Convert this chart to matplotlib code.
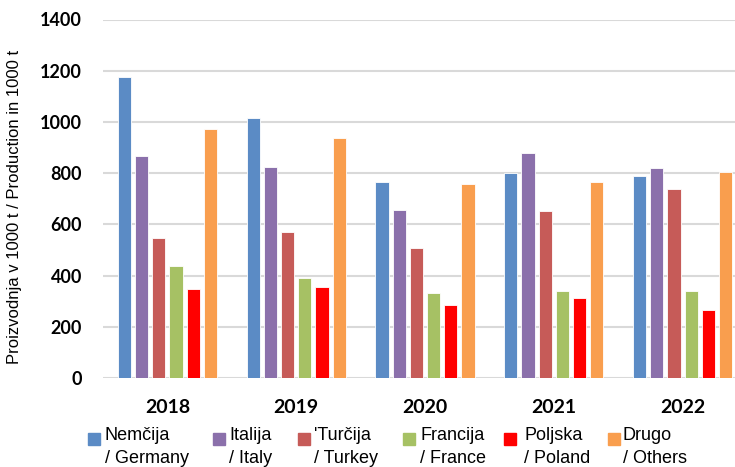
import numpy as np
import matplotlib.pyplot as plt
from matplotlib.patches import Rectangle

# Proizvodnja po državah (v 1000 t)
leta = ['2018', '2019', '2020', '2021', '2022']
nemcija = [1175, 1016, 767, 802, 790]
italija = [865, 824, 658, 877, 819]
turcija = [545, 572, 506, 654, 738]
francija = [439, 391, 330, 339, 339]
poljska = [346, 356, 285, 311, 264]
drugo = [973, 937, 759, 767, 803]

serije = [nemcija, italija, turcija, francija, poljska, drugo]
oznake = [('Nemčija', '/ Germany'), ('Italija', '/ Italy'), ("'Turčija", '/ Turkey'),
          ('Francija', '/ France'), ('Poljska', '/ Poland'), ('Drugo', '/ Others')]
barve = ['#5B8BC5', '#8B70AB', '#C65B58', '#A6C164', '#FF0000', '#F99E4E']

W, H = 735, 467
fig = plt.figure(figsize=(W / 100, H / 100), dpi=100)
# os sega malce čez desni rob slike
ax = fig.add_axes([103 / W, 1 - 378 / H, 644 / W, (378 - 19.5) / H])
ax.set_clip_on(False)

x = np.arange(len(leta))
korak = 0.1336
sirina = 0.1036
for i, (vals, c) in enumerate(zip(serije, barve)):
    ax.bar(x + (i - 2.5) * korak, vals, width=sirina, color=c,
           edgecolor='white', linewidth=0.6, zorder=3)

ax.set_xlim(-0.5, len(leta) - 0.5)
ax.set_ylim(0, 1400)
ax.set_yticks(range(0, 1401, 200))
ax.set_xticks(x)
ax.set_xticklabels(leta)
ax.yaxis.grid(True, color='#D9D9D9', linewidth=1.5, zorder=0)
ax.set_axisbelow(True)
for s in ax.spines.values():
    s.set_visible(False)
ax.tick_params(axis='both', length=0)
ax.tick_params(axis='y', pad=15)
ax.tick_params(axis='x', pad=15)
for lab in ax.get_yticklabels() + ax.get_xticklabels():
    lab.set_fontfamily('Lato')
    lab.set_fontweight('bold')
    lab.set_fontsize(13)
for lab in ax.get_xticklabels():
    lab.set_fontsize(14)

fig.text(15 / W, 1 - 207 / H, 'Proizvodnja v 1000 t / Production in 1000 t',
         rotation=90, ha='center', va='center', family='Liberation Sans', fontsize=12)

# legenda pod grafom
kvadrati = [88, 213, 298, 403, 504, 608]
besedila = [105, 229, 314, 420, 524, 623]
for kx, tx, c, (l1, l2) in zip(kvadrati, besedila, barve, oznake):
    fig.patches.append(Rectangle((kx / W, 1 - 445 / H), 12 / W, 12 / H,
                                 transform=fig.transFigure, color=c))
    fig.text(tx / W, 1 - 440 / H, l1, ha='left', va='baseline',
             family='Liberation Sans', fontsize=13)
    fig.text(tx / W, 1 - 463 / H, l2, ha='left', va='baseline',
             family='Liberation Sans', fontsize=13)

fig.savefig('out.png', dpi=100)
